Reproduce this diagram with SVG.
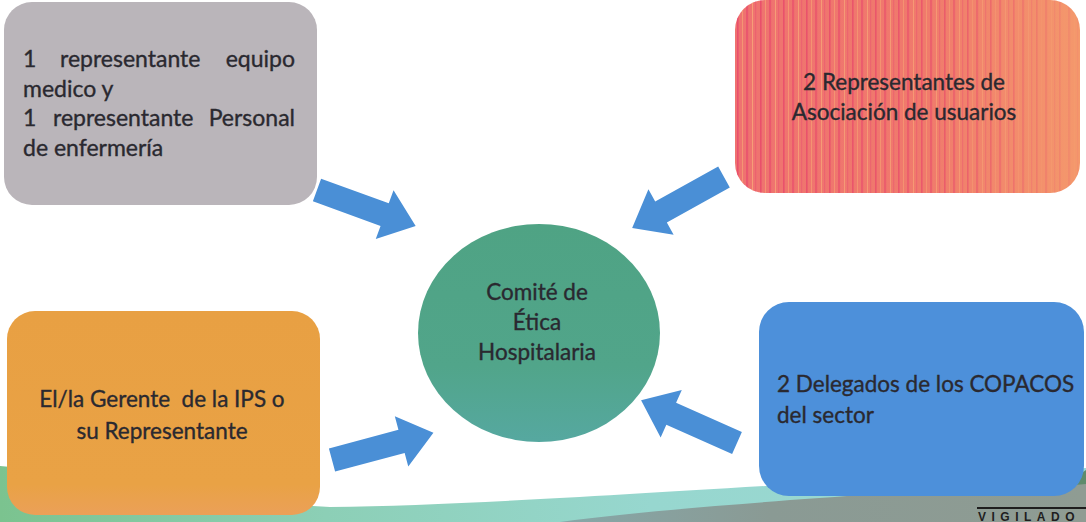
<svg xmlns="http://www.w3.org/2000/svg" width="1086" height="522" viewBox="0 0 1086 522">
  <style>
    .t { font-family: Lato, "Open Sans", "Liberation Sans", sans-serif; font-size: 22.5px; fill: #2a2930; stroke: #2a2930; stroke-width: 0.35; }
    .g { font-size: 23px; }
    .c { text-anchor: middle; }
    .e { text-anchor: end; }
    .arrow { fill: #4a8fd6; }
  </style>
  <defs>
    <polygon id="arr" points="0,-12 72,-12 72,-26 105,0 72,26 72,12 0,12"/>
    <linearGradient id="band" x1="0" y1="0" x2="1" y2="0">
      <stop offset="0" stop-color="#7bc38f"/>
      <stop offset="0.3" stop-color="#8ccfb6"/>
      <stop offset="0.6" stop-color="#97d7cf"/>
      <stop offset="1" stop-color="#9bd8d2"/>
    </linearGradient>
    <linearGradient id="gray" x1="0" y1="0" x2="1" y2="0">
      <stop offset="0" stop-color="#86a7a8"/>
      <stop offset="0.4" stop-color="#8a9a94"/>
      <stop offset="1" stop-color="#8f9c93"/>
    </linearGradient>
    <linearGradient id="redg" x1="0" y1="0" x2="1" y2="0">
      <stop offset="0" stop-color="#ef7270"/>
      <stop offset="0.55" stop-color="#f07a6c"/>
      <stop offset="1" stop-color="#f4986c"/>
    </linearGradient>
    <pattern id="stripes" width="23" height="10" patternUnits="userSpaceOnUse">
      <rect x="1" y="0" width="1.6" height="10" fill="#e6406a"/>
      <rect x="6" y="0" width="1" height="10" fill="#f7a474"/>
      <rect x="10" y="0" width="2.2" height="10" fill="#e84c6c"/>
      <rect x="16" y="0" width="1" height="10" fill="#f9b07a"/>
      <rect x="19" y="0" width="1.2" height="10" fill="#ea5a70"/>
    </pattern>
    <linearGradient id="fade" x1="0" y1="0" x2="1" y2="0">
      <stop offset="0" stop-color="#fff" stop-opacity="0.7"/>
      <stop offset="0.6" stop-color="#fff" stop-opacity="0.55"/>
      <stop offset="1" stop-color="#fff" stop-opacity="0.1"/>
    </linearGradient>
    <mask id="fadeMask">
      <rect x="735" y="0" width="345" height="193" fill="url(#fade)"/>
    </mask>
    <linearGradient id="circ" x1="0" y1="0" x2="0" y2="1">
      <stop offset="0" stop-color="#4fa384"/>
      <stop offset="0.65" stop-color="#51a58a"/>
      <stop offset="1" stop-color="#56a8a0"/>
    </linearGradient>
    <linearGradient id="orng" x1="0" y1="0" x2="0" y2="1">
      <stop offset="0" stop-color="#e8a043"/>
      <stop offset="0.85" stop-color="#e9a245"/>
      <stop offset="1" stop-color="#eba058"/>
    </linearGradient>
  </defs>

  <rect width="1086" height="522" fill="#ffffff"/>

  <!-- bottom decorative band -->
  <g id="background-band">
    <path d="M0,466 C120,476 250,504 330,507 C500,505 700,488 1086,468 L1086,522 L0,522 Z" fill="url(#band)"/>
    <path d="M560,522 C680,506 850,496 1086,480 L1086,522 Z" fill="url(#gray)"/>
    <path d="M1062,486 L1086,470 L1086,484 Z" fill="#5e8b6c"/>
    <line x1="977" y1="508" x2="1086" y2="508" stroke="#1e1e1e" stroke-width="2"/>
    <text x="978" y="521" font-family="'Liberation Sans', Arial, sans-serif" font-size="12" font-weight="bold" letter-spacing="5.5" fill="#1e1e1e">VIGILADO</text>
  </g>

  <!-- connectors -->
  <g id="connectors">
    <use href="#arr" class="arrow" transform="translate(317,190) rotate(20)"/>
    <use href="#arr" class="arrow" transform="translate(724,177) rotate(151)"/>
    <use href="#arr" class="arrow" transform="translate(737,443) rotate(204)"/>
    <use href="#arr" class="arrow" transform="translate(332,460) rotate(-15)"/>
  </g>

  <g id="node-medico">
    <rect x="4" y="2" width="313" height="203" rx="28" fill="#bab5ba"/>
    <text class="t g" x="23" y="67">1</text>
    <text class="t g" x="60" y="67">representante</text>
    <text class="t g e" x="295" y="67">equipo</text>
    <text class="t g" x="23" y="97">medico y</text>
    <text class="t g" x="23" y="126">1</text>
    <text class="t g" x="53" y="126">representante</text>
    <text class="t g e" x="295" y="126">Personal</text>
    <text class="t g" x="23" y="156">de enfermería</text>
  </g>

  <g id="node-usuarios">
    <rect x="735" y="0" width="345" height="193" rx="30" fill="url(#redg)"/>
    <rect x="735" y="0" width="345" height="193" rx="30" fill="url(#stripes)" mask="url(#fadeMask)"/>
    <text class="t c" x="904" y="90">2 Representantes de</text>
    <text class="t c" x="904" y="120">Asociación de usuarios</text>
  </g>

  <g id="node-comite">
    <ellipse cx="539" cy="333" rx="121" ry="109" fill="url(#circ)"/>
    <text class="t c" x="537" y="300">Comité de</text>
    <text class="t c" x="537" y="330">Ética</text>
    <text class="t c" x="537" y="360">Hospitalaria</text>
  </g>

  <g id="node-gerente">
    <rect x="7" y="311" width="313" height="204" rx="28" fill="url(#orng)"/>
    <text class="t c" x="162" y="407" xml:space="preserve">El/la Gerente  de la IPS o</text>
    <text class="t c" x="162" y="439">su Representante</text>
  </g>

  <g id="node-copacos">
    <rect x="759" y="302" width="325" height="194" rx="30" fill="#4d90da"/>
    <text class="t" x="777" y="392">2 Delegados de los COPACOS</text>
    <text class="t" x="777" y="423">del sector</text>
  </g>
</svg>
